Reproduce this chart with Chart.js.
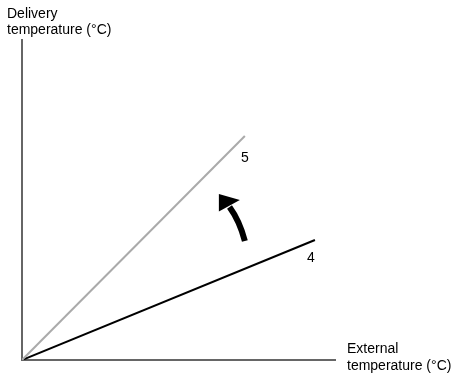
<!DOCTYPE html>
<html>
<head>
<meta charset="utf-8">
<script src="https://cdn.jsdelivr.net/npm/chart.js@4"></script>
<style>
  html, body { margin: 0; padding: 0; background: #fff; }
  #wrap { width: 451px; height: 376px; }
</style>
</head>
<body>
<div id="wrap"><canvas id="myChart"></canvas></div>
<script>
/* Data */
var curveNames = ['5', '4'];
var curve5 = [{x: 0, y: 0}, {x: 71.2, y: 70}];
var curve4 = [{x: 0, y: 0}, {x: 93.6, y: 37.5}];
var labelPos = [{x: 71.2, y: 63.1}, {x: 92.3, y: 31.9}];
var yTitle = ['Delivery', 'temperature (°C)'];
var xTitle = ['External', 'temperature (°C)'];

/* extra drawing: axis titles, curve numbers, arrow */
var extras = {
    id: 'extras',
    afterDraw: function (chart) {
        var c = chart.ctx;
        var xs = chart.scales.x, ys = chart.scales.y;
        var px = function (v) { return xs.getPixelForValue(v); };
        var py = function (v) { return ys.getPixelForValue(v); };
        c.save();
        c.fillStyle = '#000';
        c.font = '14px "Liberation Sans", Arial, sans-serif';
        c.textBaseline = 'alphabetic';
        c.textAlign = 'left';
        c.fillText(yTitle[0], 7, 18);
        c.fillText(yTitle[1], 7, 34);
        c.fillText(xTitle[0], 347, 353);
        c.fillText(xTitle[1], 347, 370);

        c.textAlign = 'center';
        c.textBaseline = 'middle';
        for (var i = 0; i < curveNames.length; i++) {
            c.fillText(curveNames[i], px(labelPos[i].x), py(labelPos[i].y));
        }

        // curved arrow from line 4 towards line 5
        c.strokeStyle = '#000';
        c.lineWidth = 6;
        c.beginPath();
        c.moveTo(px(71.2), py(37.2));
        c.quadraticCurveTo(px(69.5), py(43.5), px(66.3), py(47.8));
        c.stroke();
        c.beginPath();
        c.moveTo(px(62.9), py(51.9));
        c.lineTo(px(62.9), py(46.4));
        c.lineTo(px(69.6), py(50.0));
        c.closePath();
        c.fill();
        c.restore();
    }
};

new Chart(document.getElementById('myChart'), {
    type: 'line',
    data: {
        datasets: [{
            label: curveNames[0],
            data: curve5,
            borderColor: '#aaaaaa',
            borderWidth: 2,
            pointRadius: 0
        }, {
            label: curveNames[1],
            data: curve4,
            borderColor: '#000000',
            borderWidth: 2,
            pointRadius: 0
        }]
    },
    options: {
        responsive: true,
        maintainAspectRatio: false,
        animation: false,
        layout: { padding: { left: 22, top: 40, right: 116, bottom: 16 } },
        plugins: { legend: { display: false }, tooltip: { enabled: false } },
        scales: {
            x: {
                type: 'linear', min: 0, max: 100,
                grid: { display: false, drawTicks: false },
                ticks: { display: false },
                border: { color: '#666666', width: 2 }
            },
            y: {
                type: 'linear', min: 0, max: 100,
                grid: { display: false, drawTicks: false },
                ticks: { display: false },
                border: { color: '#666666', width: 2 }
            }
        }
    },
    plugins: [extras]
});
</script>
</body>
</html>
